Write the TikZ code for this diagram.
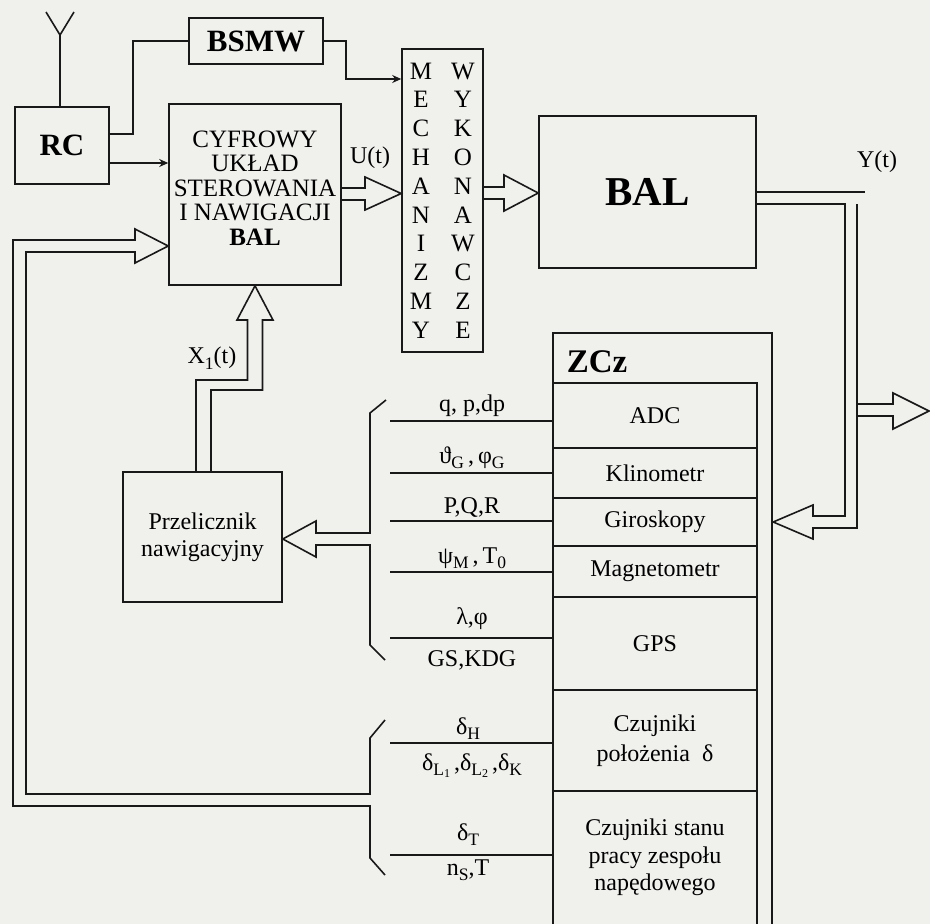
\documentclass[tikz,border=0pt]{standalone}
\usepackage{fontspec}
\setmainfont{Liberation Serif}
\usetikzlibrary{arrows.meta,calc}
\definecolor{bg}{RGB}{240,240,237}
\definecolor{ink}{RGB}{25,25,25}
\newcommand\sbx[1]{\raisebox{-0.5ex}{\fontsize{17.5}{17.5}\selectfont #1}}
\newcommand\sbbx[1]{\raisebox{-0.3ex}{\fontsize{12}{12}\selectfont #1}}
\begin{document}
\begin{tikzpicture}[x=1pt,y=-1pt,
  box/.style={draw=ink,line width=1.6pt,inner sep=0pt,align=center},
  lbl/.style={inner sep=0pt,align=center,font=\fontsize{24}{26}\selectfont},
  rowbox/.style={inner sep=0pt,minimum width=204pt,align=center,font=\fontsize{24}{26}\selectfont},
  conn/.style={draw=ink,line width=1.6pt},
  arr/.style={draw=ink,line width=1.6pt,-{Stealth[length=9pt,width=8pt]}},
  hol/.style={draw=ink,line width=1.6pt,line join=miter}]
\useasboundingbox (0,0) rectangle (930,924);
\clip (0,0) rectangle (930,924);
\fill[bg] (0,0) rectangle (930,924);

% boxes
\node[box,minimum width=94pt,minimum height=77pt,font=\fontsize{31}{31}\selectfont\bfseries] (rc) at (62,145.5) {RC};
\node[box,minimum width=134pt,minimum height=46pt,font=\fontsize{31}{31}\selectfont\bfseries] (bsmw) at (256,41) {BSMW};
\node[box,minimum width=172pt,minimum height=181pt] (cyf) at (255,194.5) {};
\node[lbl,font=\fontsize{25}{24.6}\selectfont] (cyft) at (255,188) {CYFROWY\\UKŁAD\\STEROWANIA\\I NAWIGACJI\\\textbf{BAL}};
\node[box,minimum width=81pt,minimum height=303pt] (mech) at (442.5,200.5) {};
\node[lbl,font=\fontsize{25}{28.8}\selectfont] (mechl) at (421,200.5) {M\\E\\C\\H\\A\\N\\I\\Z\\M\\Y};
\node[lbl,font=\fontsize{25}{28.8}\selectfont] (mechr) at (463,200.5) {W\\Y\\K\\O\\N\\A\\W\\C\\Z\\E};
\node[box,minimum width=217pt,minimum height=152pt,font=\fontsize{41}{41}\selectfont\bfseries] (bal) at (647.5,192) {BAL};
\node[box,minimum width=159pt,minimum height=130pt,font=\fontsize{24}{27}\selectfont] (prz) at (202.5,537) {Przelicznik\\nawigacyjny};

% ZCz
\node[draw=ink,line width=2.4pt,minimum width=219pt,minimum height=627pt,inner sep=0pt] (zcz) at (662.5,646.5) {};
\node[inner sep=0pt,font=\fontsize{33}{33}\selectfont\bfseries] (zczt) at (597,362) {ZCz};
\node[rowbox,minimum height=65pt] (adc) at (655,415.5) {ADC};
\node[rowbox,minimum height=50pt] (klin) at (655,473) {Klinometr};
\node[rowbox,minimum height=48pt] (giro) at (655,522) {Giroskopy};
\node[rowbox,minimum height=51pt] (magn) at (655,571.5) {Magnetometr};
\node[rowbox,minimum height=93pt] (gps) at (655,643.5) {GPS};
\node[rowbox,minimum height=101pt,font=\fontsize{24}{30}\selectfont] (czp) at (655,740.5) {Czujniki\\położenia~~δ};
\node[rowbox,minimum height=133pt,font=\fontsize{24}{27.5}\selectfont] (czs) at (655,857.5) {Czujniki stanu\\pracy zespołu\\napędowego};
\draw[conn] (adc.north west) -- (adc.north east) -- (adc.north east |- 0,950);
\foreach \r in {adc,klin,giro,magn,gps,czp} \draw[conn] (\r.south west) -- (\r.south east);

% signal labels
\node[lbl,anchor=base] (s1) at (472,411) {q, p,dp};
\node[lbl,anchor=base] (s2) at (472,463) {ϑ\sbx{G}\,,\,φ\sbx{G}};
\node[lbl,anchor=base] (s3) at (472,513) {P,Q,R};
\node[lbl,anchor=base] (s4) at (472,563) {ψ\sbx{M}\,,\,T\sbx{0}};
\node[lbl,anchor=base] (s5) at (472,624) {λ,φ};
\node[lbl,anchor=base] (s6) at (472,666) {GS,KDG};
\node[lbl,anchor=base] (s7) at (468,734) {δ\sbx{H}};
\node[lbl,anchor=base] (s8) at (472,770) {δ\sbx{L\sbbx{1}}\,,δ\sbx{L\sbbx{2}}\,,δ\sbx{K}};
\node[lbl,anchor=base] (s9) at (468,840) {δ\sbx{T}};
\node[lbl,anchor=base] (s10) at (468,875) {n\sbx{S},T};
\foreach \y [count=\i] in {421,473,521,572,638,743,855} {
  \coordinate (l\i) at (390,\y);
  \draw[conn] (l\i) -- (l\i -| zcz.west);
}

% other labels
\node[lbl] (ut) at (370,158) {U(t)};
\node[lbl] (x1) at (212,358) {X\sbx{1}(t)};
\node[lbl] (yt) at (877,162) {Y(t)};

% antenna
\coordinate (ant) at (60,35);
\draw[conn] (60,0 |- rc.north) -- (ant) -- (46,12);
\draw[conn] (ant) -- (74,12);

% thin connectors
\draw[conn] (rc.east |- 0,134) -- (133,134) -- (133,41) -- (bsmw.west);
\draw[arr] (bsmw.east) -- (346,41) -- (346,79) -- (mech.west |- 0,79);
\draw[arr] (rc.east |- 0,163) -- (cyf.west |- 0,163);
\coordinate (yend) at (865,192);
\draw[conn] (bal.east) -- (yend);

% hollow arrows
\draw[hol] (cyf.east |- 0,188) -- (365,188) -- (365,177) -- (mech.west |- 0,193.5) -- (365,210) -- (365,200) -- (cyf.east |- 0,200);
\draw[hol] (mech.east |- 0,187) -- (504,187) -- (504,175) -- (bal.west |- 0,193) -- (504,211) -- (504,199) -- (mech.east |- 0,199);
\draw[hol] (prz.north -| 196,0) -- (196,380) -- (247.5,380) -- (247.5,320) -- (237,320) -- (cyf.south) -- (273,320) -- (262.5,320) -- (262.5,390) -- (211,390) -- (prz.north -| 211,0);
\draw[hol] (386,400) -- (370,413) -- (370,533) -- (316,533) -- (316,521) -- (prz.east |- 0,539) -- (316,557) -- (316,545) -- (370,545) -- (370,645) -- (385,660);
\draw[hol] (385,720) -- (370,738) -- (370,794) -- (26,794) -- (26,252) -- (135,252) -- (135,263) -- (cyf.west |- 0,246) -- (135,229) -- (135,240) -- (13,240) -- (13,806) -- (370,806) -- (370,858) -- (385,875);
\draw[hol] (bal.east |- 0,204) -- (845,204) -- (845,516) -- (813,516) -- (813,505) -- (zcz.east |- 0,522) -- (813,539) -- (813,528) -- (857,528) -- (857,204);
\coordinate (out) at (929,411);
\draw[hol] (857,404) -- (893,404) -- (893,393) -- (out) -- (893,429) -- (893,416) -- (857,416);
\end{tikzpicture}
\end{document}
